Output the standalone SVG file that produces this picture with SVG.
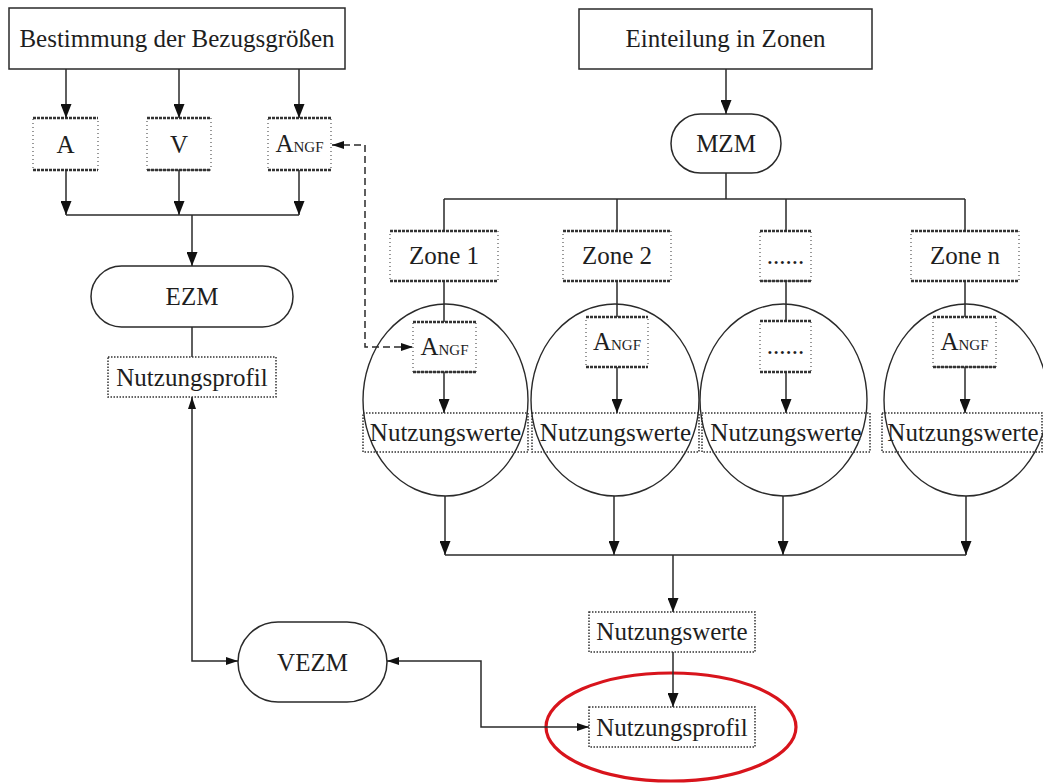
<svg xmlns="http://www.w3.org/2000/svg" width="1043" height="784" viewBox="0 0 1043 784">
  <style>
    .t { font-family: "Liberation Serif", "Times New Roman", serif; font-size: 25px; fill: #1e1e1e; text-anchor: middle; }
    .sub { font-size: 15px; }
    .solid { fill: #fff; stroke: #2a2a2a; stroke-width: 1.5; }
    .side { fill: #fff; stroke: #555; stroke-width: 1.2; stroke-dasharray: 1 3; }
    .edge { fill: none; stroke: #333; stroke-width: 2.4; stroke-dasharray: 3 1; }
    .dot { fill: none; stroke: #333; stroke-width: 1.5; stroke-dasharray: 1.5 1.5; }
    .zone-ring { fill: none; stroke: #2a2a2a; stroke-width: 1.4; }
    .mark { fill: none; stroke: #d8141c; stroke-width: 3.2; }
    .line { fill: none; stroke: #2a2a2a; stroke-width: 1.5; }
    .dash { fill: none; stroke: #2a2a2a; stroke-width: 1.5; stroke-dasharray: 7 4; }
  </style>
  <defs>
    <marker id="ah" markerUnits="userSpaceOnUse" viewBox="0 0 14 11" markerWidth="14" markerHeight="11" refX="14" refY="5.5" orient="auto-start-reverse">
      <path d="M0,0 L14,5.5 L0,11 Z" fill="#111"/>
    </marker>
    <marker id="as" markerUnits="userSpaceOnUse" viewBox="0 0 12 8" markerWidth="12" markerHeight="8" refX="12" refY="4" orient="auto-start-reverse">
      <path d="M0,0 L12,4 L0,8 Z" fill="#111"/>
    </marker>
  </defs>

  <!-- left branch: reference quantities -->
  <g id="n-bestimmung">
    <rect class="solid" x="9" y="8" width="336" height="61"/>
    <text class="t" x="177" y="47">Bestimmung der Bezugsgrößen</text>
  </g>
  <g id="n-a">
    <rect class="side" x="33" y="118" width="65" height="52"/>
    <path class="edge" d="M33,118 H98 M33,170 H98"/>
    <text class="t" x="65.5" y="153">A</text>
  </g>
  <g id="n-v">
    <rect class="side" x="147" y="118" width="64" height="52"/>
    <path class="edge" d="M147,118 H211 M147,170 H211"/>
    <text class="t" x="179" y="153">V</text>
  </g>
  <g id="n-angf">
    <rect class="side" x="268" y="118" width="63" height="52"/>
    <path class="edge" d="M268,118 H331 M268,170 H331"/>
    <text class="t" x="299.5" y="152" font-size="23">A<tspan class="sub">NGF</tspan></text>
  </g>
  <g id="n-ezm">
    <rect class="solid" x="91" y="266" width="202" height="61" rx="30.5"/>
    <text class="t" x="192" y="305">EZM</text>
  </g>
  <g id="n-profil-ezm">
    <rect class="dot" x="108" y="357" width="168" height="40"/>
    <text class="t" x="192" y="386">Nutzungsprofil</text>
  </g>
  <g id="n-vezm">
    <rect class="solid" x="238" y="622" width="149" height="80" rx="40"/>
    <text class="t" x="312.5" y="671">VEZM</text>
  </g>

  <!-- right branch: zoning -->
  <g id="n-einteilung">
    <rect class="solid" x="579" y="9" width="293" height="60"/>
    <text class="t" x="725.5" y="47">Einteilung in Zonen</text>
  </g>
  <g id="n-mzm">
    <rect class="solid" x="671" y="114" width="110" height="59" rx="29.5"/>
    <text class="t" x="726" y="152">MZM</text>
  </g>

  <g id="n-zone1">
    <rect class="side" x="390" y="231" width="108" height="50"/>
    <path class="edge" d="M390,231 H498 M390,281 H498"/>
    <text class="t" x="444" y="264">Zone 1</text>
  </g>
  <g id="n-zone2">
    <rect class="side" x="563" y="231" width="108" height="50"/>
    <path class="edge" d="M563,231 H671 M563,281 H671"/>
    <text class="t" x="617" y="264">Zone 2</text>
  </g>
  <g id="n-zone3">
    <rect class="side" x="760" y="231" width="51" height="50"/>
    <path class="edge" d="M760,231 H811 M760,281 H811"/>
    <text class="t" x="785.5" y="264">......</text>
  </g>
  <g id="n-zonen">
    <rect class="side" x="911" y="231" width="108" height="50"/>
    <path class="edge" d="M911,231 H1019 M911,281 H1019"/>
    <text class="t" x="965" y="264">Zone n</text>
  </g>

  <g id="n-zone1-detail">
    <rect class="side" x="413" y="322" width="63" height="50"/>
    <path class="edge" d="M413,322 H476 M413,372 H476"/>
    <text class="t" x="444.5" y="355" font-size="23">A<tspan class="sub">NGF</tspan></text>
    <rect class="dot" x="363" y="413" width="165" height="39"/>
    <text class="t" x="445.5" y="441">Nutzungswerte</text>
    <ellipse class="zone-ring" cx="445.5" cy="400" rx="82.5" ry="96"/>
  </g>
  <g id="n-zone2-detail">
    <rect class="side" x="586" y="317" width="62" height="50"/>
    <path class="edge" d="M586,317 H648 M586,367 H648"/>
    <text class="t" x="617" y="350" font-size="23">A<tspan class="sub">NGF</tspan></text>
    <rect class="dot" x="532" y="413" width="167" height="39"/>
    <text class="t" x="615.5" y="441">Nutzungswerte</text>
    <ellipse class="zone-ring" cx="615" cy="400" rx="84" ry="96"/>
  </g>
  <g id="n-zone3-detail">
    <rect class="side" x="760" y="321" width="51" height="51"/>
    <path class="edge" d="M760,321 H811 M760,372 H811"/>
    <text class="t" x="785.5" y="354">......</text>
    <rect class="dot" x="702" y="413" width="168" height="39"/>
    <text class="t" x="786" y="441">Nutzungswerte</text>
    <ellipse class="zone-ring" cx="783.5" cy="400" rx="83.5" ry="96"/>
  </g>
  <g id="n-zonen-detail">
    <rect class="side" x="933" y="317" width="63" height="50"/>
    <path class="edge" d="M933,317 H996 M933,367 H996"/>
    <text class="t" x="964.5" y="350" font-size="23">A<tspan class="sub">NGF</tspan></text>
    <rect class="dot" x="882" y="413" width="160" height="39"/>
    <text class="t" x="963" y="441">Nutzungswerte</text>
    <ellipse class="zone-ring" cx="966" cy="400" rx="82" ry="96"/>
  </g>

  <g id="n-werte">
    <rect class="dot" x="589" y="612" width="166" height="40"/>
    <text class="t" x="672" y="640">Nutzungswerte</text>
  </g>
  <g id="n-profil">
    <rect class="dot" x="589" y="707" width="166" height="40"/>
    <text class="t" x="672" y="736">Nutzungsprofil</text>
    <ellipse class="mark" cx="671" cy="727" rx="125" ry="54"/>
  </g>

  <!-- connectors -->
  <g id="connectors">
    <path class="line" d="M66,69 V118" marker-end="url(#ah)"/>
    <path class="line" d="M179,69 V118" marker-end="url(#ah)"/>
    <path class="line" d="M299,69 V118" marker-end="url(#ah)"/>
    <path class="line" d="M66,170 V215" marker-end="url(#ah)"/>
    <path class="line" d="M179,170 V215" marker-end="url(#ah)"/>
    <path class="line" d="M299,170 V215" marker-end="url(#ah)"/>
    <path class="line" d="M66,215 H299"/>
    <path class="line" d="M192,215 V266" marker-end="url(#ah)"/>
    <path class="line" d="M192,327 V357"/>
    <path class="line" d="M192,397 V661 H238" marker-start="url(#as)" marker-end="url(#as)"/>
    <path class="line" d="M387,661 H481 V727 H589" marker-start="url(#as)" marker-end="url(#as)"/>

    <path class="dash" d="M332,145 H365 V347 H413" marker-start="url(#as)" marker-end="url(#as)"/>

    <path class="line" d="M726,69 V114" marker-end="url(#ah)"/>
    <path class="line" d="M726,173 V199"/>
    <path class="line" d="M444,199 H965"/>
    <path class="line" d="M444,199 V231 M617,199 V231 M786,199 V231 M965,199 V231"/>
    <path class="line" d="M444,281 V322 M617,281 V317 M786,281 V321 M965,281 V317"/>
    <path class="line" d="M444,372 V413" marker-end="url(#ah)"/>
    <path class="line" d="M617,367 V413" marker-end="url(#ah)"/>
    <path class="line" d="M786,372 V413" marker-end="url(#ah)"/>
    <path class="line" d="M965,367 V413" marker-end="url(#ah)"/>

    <path class="line" d="M445,496 V555" marker-end="url(#ah)"/>
    <path class="line" d="M614,496 V555" marker-end="url(#ah)"/>
    <path class="line" d="M783,496 V555" marker-end="url(#ah)"/>
    <path class="line" d="M966,496 V555" marker-end="url(#ah)"/>
    <path class="line" d="M445,555 H966"/>
    <path class="line" d="M673,555 V612" marker-end="url(#ah)"/>
    <path class="line" d="M673,652 V707" marker-end="url(#ah)"/>
  </g>
</svg>
